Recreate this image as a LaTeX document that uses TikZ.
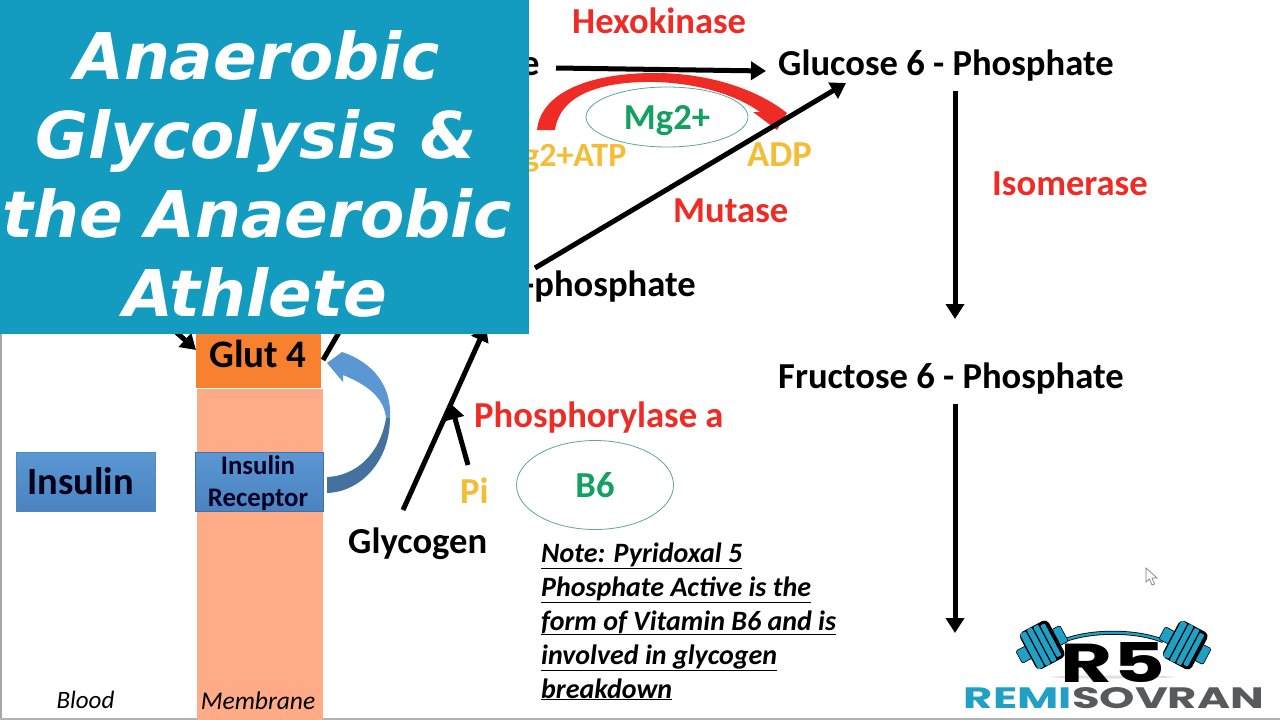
\documentclass[tikz,border=0pt]{standalone}
\usepackage{fontspec}
\usepackage{graphicx}
\setmainfont{Carlito}
\newfontfamily\titlefont{DejaVu Sans}
\newfontfamily\logofont{Poppins}
\usetikzlibrary{arrows.meta,shapes.geometric}
\definecolor{panel}{HTML}{139BC0}
\definecolor{enz}{HTML}{EE2B24}
\definecolor{cof}{HTML}{F5BC35}
\definecolor{vit}{HTML}{12A15F}
\definecolor{ring}{HTML}{5FA59B}
\definecolor{memb}{HTML}{FFAB87}
\definecolor{glut}{HTML}{F8812F}
\definecolor{ins}{HTML}{5A97D3}
\definecolor{insd}{HTML}{4A83C0}
\definecolor{lteal}{HTML}{1FA0C4}
\definecolor{lgrey}{HTML}{58595B}
\newcommand{\fs}[1]{\fontsize{#1pt}{#1pt}\selectfont}
\tikzset{
  lbl/.style={anchor=base west,inner sep=0pt,font=\bfseries\fs{36.6}},
  blk/.style={lbl,text=black},
  enzy/.style={lbl,text=enz},
  cofa/.style={lbl,text=cof},
  vita/.style={lbl,text=vit,anchor=base},
  notes/.style={anchor=base west,inner sep=0pt,font=\bfseries\itshape\fs{28}},
  arr/.style={line width=5pt,-{Triangle[length=15pt,width=18pt]}},
  oval/.style={draw=ring,line width=0.8pt,ellipse,inner sep=0pt},
  ttl/.style={anchor=base,inner sep=0pt,text=white,font=\titlefont\bfseries\itshape\fs{64.5}},
  platestripe/.style={fill=lteal,draw=none,rounded corners=1pt},
  insfill/.style={top color=ins,bottom color=insd}
}
\newcommand{\plate}[3]{%
  \begin{scope}[shift={(#1,#2)},rotate=#3]
    \fill[lteal,draw=black,line width=0.6pt,rounded corners=1.5pt] (-26,-7) rectangle (-14,7);
    \fill[lteal,draw=black,line width=0.6pt,rounded corners=1.5pt] (14,-9) rectangle (25,9);
    \fill[black,rounded corners=5pt] (-16,-21) rectangle (16.5,21);
    \fill[platestripe] (-14.5,-20) rectangle (-8,20);
    \fill[platestripe] (-6.5,-20.5) rectangle (-1,20.5);
    \fill[platestripe] (0.5,-20) rectangle (6,20);
    \fill[platestripe] (7.5,-18) rectangle (12.5,18);
  \end{scope}}
\begin{document}
\begin{tikzpicture}[x=1pt,y=-1pt]
\useasboundingbox (0,0) rectangle (1280,720);
\fill[white] (0,0) rectangle (1280,720);
\fill[black!35] (0,334) rectangle (2,720);
\fill[black!30] (0,718) rectangle (1280,720);

% membrane column
\node[draw=none,fill=memb,minimum width=126pt,minimum height=331pt,inner sep=0pt] (membrane) at (260,554.5) {};
\node[fill=glut,minimum width=125pt,minimum height=60pt,inner sep=0pt] (glut) at (258.5,357.5) {};
\node[blk,anchor=base,text=black] (glutt) at (258,367) {\fs{39}Glut 4};
\node[insfill,draw=ins!75!black,line width=0.5pt,minimum width=128pt,minimum height=59pt,inner sep=0pt] (rec) at (259,481.5) {};
\node[anchor=base,inner sep=0pt,font=\bfseries\fs{26.8},text=black!85!blue] (r1) at (258,474.5) {Insulin};
\node[anchor=base,inner sep=0pt,font=\bfseries\fs{26.8},text=black!85!blue] (r2) at (258,506.5) {Receptor};
\node[insfill,draw=ins!90!black,line width=0.5pt,minimum width=139pt,minimum height=59pt,inner sep=0pt] (insbox) at (85.5,481.5) {};
\node[blk,text=black!90!blue] (instxt) at (27,494) {\fs{38.5}Insulin};
\node[anchor=base,inner sep=0pt,font=\itshape\fs{25}] (blood) at (85.5,708) {Blood};
\node[anchor=base,inner sep=0pt,font=\itshape\fs{25.5}] (mem) at (258,709) {Membrane};

% blue curved arrow
\fill[ins] (327,363) -- (342,352) .. controls (372,362) and (392,385) .. (390,418)
  -- (386,418) .. controls (384,398) and (368,385) .. (343,375) -- (343,382) -- cycle;
\fill[ins!75!black] (327,477) .. controls (355,476) and (380,455) .. (386,418)
  -- (390,418) .. controls (390,462) and (360,492) .. (327,493) -- cycle;

% hidden-end black pieces
\coordinate (glutL) at (196,350);
\coordinate (glutLs) at (165,322);
\draw[arr] (glutLs) -- (glutL);
\coordinate (glutRa) at (323,360);
\coordinate (glutRb) at (345,322);
\draw[line width=5pt] (glutRa) -- (glutRb);

% pathway labels
\node[enzy] (hexo) at (572,34) {Hexokinase};
\node[blk] (e) at (521,75) {e};
\node[blk] (g6p) at (778,75) {Glucose 6 - Phosphate};
\node[cofa,font=\bfseries\fs{34}] (atp) at (523,166) {g2+ATP};
\node[cofa] (adp) at (747,166) {ADP};
\node[enzy] (mut) at (673,222) {Mutase};
\node[blk] (g1p) at (523,296) {-phosphate};
\node[enzy] (iso) at (992,195) {Isomerase};
\node[blk] (f6p) at (778,388) {Fructose 6 - Phosphate};
\node[enzy] (phos) at (474,427) {Phosphorylase a};
\node[cofa] (pi) at (460,503) {Pi};
\node[blk] (glyc) at (348,553) {Glycogen};

% ovals
\node[oval,minimum width=162pt,minimum height=60pt] (mg) at (667,117) {};
\node[vita] (mgt) at (667,129.5) {Mg2+};
\node[oval,minimum width=157pt,minimum height=89pt] (b6) at (595,485) {};
\node[vita] (b6t) at (595,497.5) {B6};

% red curved arrow
\fill[enz] (537,130) .. controls (541,92) and (590,73) .. (655,73)
  .. controls (710,73) and (758,90) .. (787,113) -- (777,130) -- (753,112) -- (760,112)
  .. controls (735,94) and (695,83) .. (655,82)
  .. controls (600,81) and (560,95) .. (555,130) -- cycle;

% arrows
\coordinate (a1s) at (556,68);
\coordinate (a1e) at (766,71);
\draw[arr] (a1s) -- (a1e);
\coordinate (a2s) at (535,268);
\coordinate (a2e) at (846,83);
\draw[arr] (a2s) -- (a2e);
\coordinate (a3s) at (955,91);
\coordinate (a3e) at (955,319);
\draw[arr] (a3s) -- (a3e);
\coordinate (a4s) at (955,404);
\coordinate (a4e) at (955,633);
\draw[arr] (a4s) -- (a4e);
\coordinate (a5s) at (403,510);
\coordinate (a5e) at (486,326);
\draw[arr] (a5s) -- (a5e);
\coordinate (a6s) at (468,465);
\coordinate (a6e) at (451,404);
\draw[arr] (a6s) -- (a6e);

% note
\node[notes] (n1) at (541,562) {\underline{Note: Pyridoxal 5}};
\node[notes] (n2) at (541,596) {\underline{Phosphate Active is the}};
\node[notes] (n3) at (541,630) {\underline{form of Vitamin B6 and is}};
\node[notes] (n4) at (541,664) {\underline{involved in glycogen}};
\node[notes] (n5) at (541,698) {\underline{breakdown}};

% title panel
\fill[panel] (0,0) rectangle (529,334);
\node[ttl] (t1) at (257,79) {Anaerobic};
\node[ttl] (t2) at (256,158) {Glycolysis \&};
\node[ttl] (t3) at (257,237) {the Anaerobic};
\node[ttl] (t4) at (255,316) {Athlete};

% cursor
\filldraw[fill=white,draw=black!50,line width=0.7pt] (1146,568) -- (1146,582) -- (1149.5,579) -- (1152,585) -- (1154.5,584) -- (1152,578) -- (1157,578) -- cycle;

% logo
\fill[black!12] (1113,677) ellipse (62 and 1.5);
\draw[black,line width=4pt] (1063,641) .. controls (1090,630) and (1136,630) .. (1163,641);
\draw[lteal,line width=2.4pt] (1063,641) .. controls (1090,630) and (1136,630) .. (1163,641);
\plate{1042}{645}{28}
\plate{1185}{645}{-28}
\node[anchor=south,inner sep=0pt] (rs) at (1113,683) {\resizebox{104pt}{40pt}{\logofont\bfseries R5}};
\node[anchor=south,inner sep=0pt] (brand) at (1114,708.5) {\resizebox{300pt}{21pt}{\logofont\bfseries\textcolor{lteal}{REMI}\textcolor{lgrey}{SOVRAN}}};
\end{tikzpicture}
\end{document}
